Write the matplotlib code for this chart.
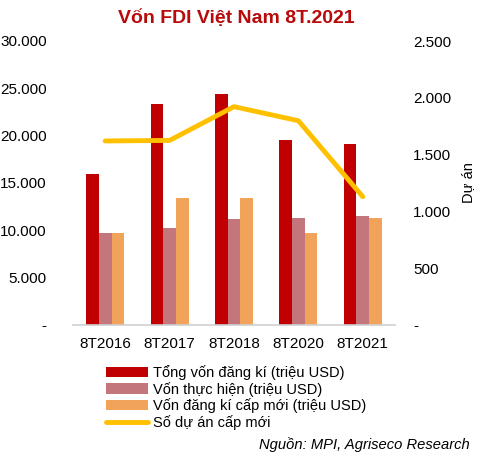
import matplotlib
matplotlib.use("Agg")
import matplotlib.pyplot as plt
import numpy as np
from matplotlib.ticker import FixedLocator

plt.rcParams['font.family'] = ['Liberation Sans', 'DejaVu Sans']

categories = ["8T2016", "8T2017", "8T2018", "8T2020", "8T2021"]
tong_von = [16000, 23300, 24400, 19500, 19100]
von_thuc_hien = [9750, 10200, 11200, 11300, 11500]
von_cap_moi = [9750, 13400, 13400, 9700, 11300]
so_du_an = [1620, 1625, 1922, 1798, 1129]

left_ticks = [0, 5000, 10000, 15000, 20000, 25000, 30000]
left_labels = ["-", "5.000", "10.000", "15.000", "20.000", "25.000", "30.000"]
right_ticks = [0, 500, 1000, 1500, 2000, 2500]
right_labels = ["-", "500", "1.000", "1.500", "2.000", "2.500"]

c_red = "#C00000"
c_pink = "#C3767B"
c_orange = "#F2A35A"
c_yellow = "#FFC000"

fig = plt.figure(figsize=(4.81, 4.58), dpi=100)
ax = fig.add_axes([73/481, 1-325/458, 322/481, 284/458])
x = np.arange(len(categories))
w = 0.197
b1 = ax.bar(x - w, tong_von, w, color=c_red, label="Tổng vốn đăng kí (triệu USD)")
b2 = ax.bar(x, von_thuc_hien, w, color=c_pink, label="Vốn thực hiện (triệu USD)")
b3 = ax.bar(x + w, von_cap_moi, w, color=c_orange, label="Vốn đăng kí cấp mới (triệu USD)")
ax.set_xlim(-0.5, len(categories) - 0.5)
ax.set_ylim(0, 30000)
ax.yaxis.set_major_locator(FixedLocator(left_ticks))
ax.set_yticklabels(left_labels)
ax.set_xticks(x)
ax.set_xticklabels(categories)
ax.tick_params(axis='both', length=0, labelsize=11, colors='black')
ax.tick_params(axis='y', pad=19)
ax.tick_params(axis='x', pad=9)
for s in ['top', 'left', 'right']:
    ax.spines[s].set_visible(False)
ax.spines['bottom'].set_color('#D0D0D0')
ax.spines['bottom'].set_linewidth(1.2)

ax2 = ax.twinx()
l1, = ax2.plot(x, so_du_an, color=c_yellow, linewidth=3.5, label="Số dự án cấp mới",
               solid_capstyle='round', solid_joinstyle='round')
ax2.set_ylim(0, 2500)
ax2.yaxis.set_major_locator(FixedLocator(right_ticks))
ax2.set_yticklabels(right_labels)
ax2.tick_params(axis='y', length=0, labelsize=11, pad=13)
for s in ['top', 'left', 'right', 'bottom']:
    ax2.spines[s].set_visible(False)
ax2.set_ylabel("Dự án", fontsize=10.5, labelpad=7)

fig.text(236/481, 1-18/458, "Vốn FDI Việt Nam 8T.2021", ha='center', va='center',
         fontsize=14, fontweight='bold', color="#B80A0A")

handles = [b1, b2, b3, l1]
labels = [h.get_label() for h in handles]
leg = fig.legend(handles, labels, loc='upper left', bbox_to_anchor=(106/481, 1-365/458),
                 frameon=False, fontsize=10.5, handlelength=2.9, handletextpad=0.35,
                 labelspacing=0.12, borderaxespad=0, borderpad=0)

fig.text(470/481, 1-445/458, "Nguồn: MPI, Agriseco Research", ha='right', va='center',
         fontsize=10.6, style='italic')

fig.savefig("out.png", dpi=100)
